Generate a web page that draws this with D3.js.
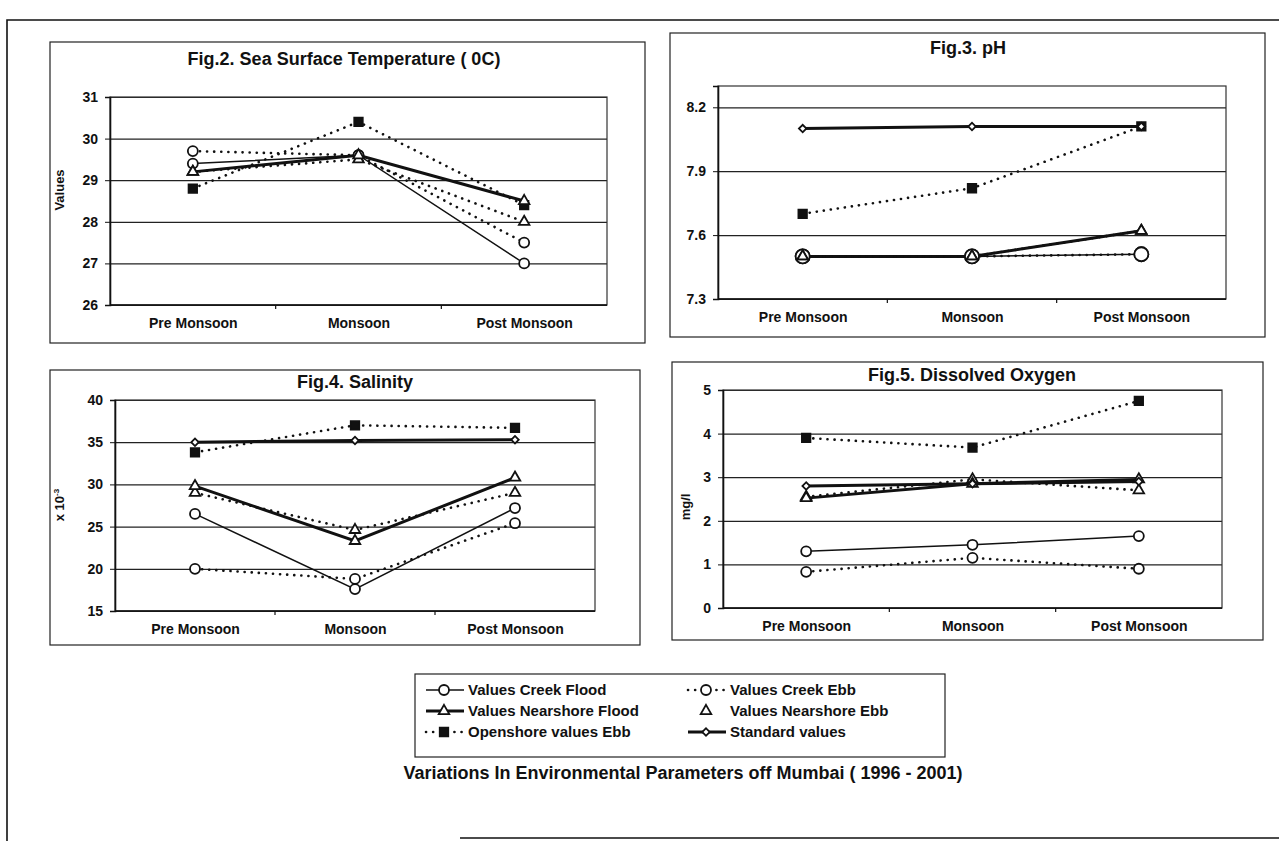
<!DOCTYPE html>
<html>
<head>
<meta charset="utf-8">
<script src="https://cdn.jsdelivr.net/npm/d3@7"></script>
<style>
  body { margin: 0; background: #fff; }
  text { font-family: "Liberation Sans", Arial, sans-serif; font-weight: bold; fill: #111; }
</style>
</head>
<body>
<svg id="chart" width="1279" height="841"></svg>
<script>
var seasons = ["Pre Monsoon", "Monsoon", "Post Monsoon"]

var CF = "Values Creek Flood", CE = "Values Creek Ebb",
    NF = "Values Nearshore Flood", NE = "Values Nearshore Ebb",
    OE = "Openshore values Ebb", SV = "Standard values"

// Fig.2 sea surface temperature (0C)
var sstCreekFlood = [29.4, 29.6, 27.0]
var sstCreekEbb = [29.7, 29.6, 27.5]
var sstNearFlood = [29.2, 29.6, 28.5]
var sstNearEbb = [29.2, 29.5, 28.0]
var sstOpenEbb = [28.8, 30.4, 28.4]
var sstTicks = [26, 27, 28, 29, 30, 31]

// Fig.3 pH
var phCreekFlood = [7.5, 7.5, 7.51]
var phCreekEbb = [7.5, 7.5, 7.51]
var phNearFlood = [7.5, 7.5, 7.62]
var phNearEbb = [7.5, 7.5, 7.62]
var phOpenEbb = [7.7, 7.82, 8.11]
var phStandard = [8.1, 8.11, 8.11]
var phTicks = [7.3, 7.6, 7.9, 8.2]

// Fig.4 salinity (x 10-3)
var salCreekFlood = [26.5, 17.6, 27.2]
var salCreekEbb = [20.0, 18.8, 25.4]
var salNearFlood = [29.8, 23.3, 30.8]
var salNearEbb = [29.0, 24.6, 29.0]
var salOpenEbb = [33.8, 37.0, 36.7]
var salStandard = [35.0, 35.2, 35.3]
var salTicks = [15, 20, 25, 30, 35, 40]

// Fig.5 dissolved oxygen (mg/l)
var doCreekFlood = [1.3, 1.45, 1.65]
var doCreekEbb = [0.83, 1.15, 0.9]
var doNearFlood = [2.52, 2.85, 2.95]
var doNearEbb = [2.55, 2.95, 2.7]
var doOpenEbb = [3.9, 3.68, 4.75]
var doStandard = [2.8, 2.85, 2.9]
var doTicks = [0, 1, 2, 3, 4, 5]

var styles = {}
styles[CF] = {width: 1.5, dash: null, symbol: "circle"}
styles[CE] = {width: 2.6, dash: "0.1,7", symbol: "circle"}
styles[NF] = {width: 3, dash: null, symbol: "triangle"}
styles[NE] = {width: 2.6, dash: "0.1,7", symbol: "triangle"}
styles[OE] = {width: 2.6, dash: "0.1,7", symbol: "square"}
styles[SV] = {width: 3, dash: null, symbol: "diamond"}

var figures = [
    {title: "Fig.2. Sea Surface Temperature ( 0C)", titleAt: [344, 65],
     box: [50, 42, 645, 343], plot: [110, 97, 607, 305],
     domain: [26, 31], ticks: sstTicks, fmt: d3.format("d"),
     ylabel: "Values", ylabelAt: [64, 190], r: 5,
     series: [[OE, sstOpenEbb], [CE, sstCreekEbb], [NE, sstNearEbb], [CF, sstCreekFlood], [NF, sstNearFlood]]},
    {title: "Fig.3. pH", titleAt: [968, 54],
     box: [670, 33, 1265, 337], plot: [718, 86, 1226, 299],
     domain: [7.3, 8.3], ticks: phTicks, fmt: d3.format(".1f"),
     ylabel: null, r: 7,
     series: [[OE, phOpenEbb], [CE, phCreekEbb], [NE, phNearEbb], [CF, phCreekFlood], [NF, phNearFlood], [SV, phStandard]]},
    {title: "Fig.4. Salinity", titleAt: [355, 388],
     box: [50, 370, 640, 645], plot: [115, 400, 595, 611],
     domain: [15, 40], ticks: salTicks, fmt: d3.format("d"),
     ylabel: "x 10", ylabelSup: "-3", ylabelAt: [64, 505], r: 5,
     series: [[OE, salOpenEbb], [CE, salCreekEbb], [NE, salNearEbb], [CF, salCreekFlood], [NF, salNearFlood], [SV, salStandard]]},
    {title: "Fig.5. Dissolved Oxygen", titleAt: [972, 381],
     box: [672, 362, 1263, 640], plot: [723, 390, 1222, 608],
     domain: [0, 5], ticks: doTicks, fmt: d3.format("d"),
     ylabel: "mg/l", ylabelAt: [690, 507], r: 5,
     series: [[OE, doOpenEbb], [CE, doCreekEbb], [NE, doNearEbb], [CF, doCreekFlood], [NF, doNearFlood], [SV, doStandard]]}
]

var svg = d3.select("#chart")

// page frame of the scanned sheet
svg.append("path")
    .attr("d", "M7,841V20H1279M460,838H1279")
    .attr("fill", "none").attr("stroke", "#111").attr("stroke-width", 1.6)

function markerPath(type, r) {
    if (type == "circle") return d3.symbol().type(d3.symbolCircle).size(Math.PI * r * r)()
    if (type == "triangle") return d3.symbol().type(d3.symbolTriangle).size(48)()
    if (type == "square") return d3.symbol().type(d3.symbolSquare).size(72)()
    return d3.symbol().type(d3.symbolSquare).size(28)()
}

function drawMarker(g, type, cx, cy, r) {
    var m = g.append("path")
        .attr("d", markerPath(type, r))
        .attr("stroke", "#111")
        .attr("stroke-width", 1.8)
        .attr("fill", type == "square" ? "#111" : "#fff")
    if (type == "diamond") m.attr("transform", "translate(" + cx + "," + cy + ") rotate(45)")
    else m.attr("transform", "translate(" + cx + "," + cy + ")")
    return m
}

function renderFigure(f) {
    var g = svg.append("g")
    var p = f.plot

    g.append("rect")
        .attr("x", f.box[0]).attr("y", f.box[1])
        .attr("width", f.box[2] - f.box[0]).attr("height", f.box[3] - f.box[1])
        .attr("fill", "none").attr("stroke", "#222").attr("stroke-width", 1.2)

    g.append("text")
        .attr("x", f.titleAt[0]).attr("y", f.titleAt[1])
        .attr("text-anchor", "middle")
        .style("font-size", "18px")
        .text(f.title)

    var x = d3.scalePoint().domain(seasons).range([p[0], p[2]]).padding(0.5)
    var y = d3.scaleLinear().domain(f.domain).range([p[3], p[1]])

    // grid lines
    g.append("g")
        .attr("transform", "translate(" + p[0] + ",0)")
        .call(d3.axisLeft(y).tickValues(f.ticks).tickSize(-(p[2] - p[0])).tickFormat(""))
        .call(s => s.select(".domain").remove())
        .selectAll("line").attr("stroke", "#222").attr("stroke-width", 1.2)

    // plot frame
    g.append("rect")
        .attr("x", p[0]).attr("y", p[1])
        .attr("width", p[2] - p[0]).attr("height", p[3] - p[1])
        .attr("fill", "none").attr("stroke", "#333").attr("stroke-width", 1.2)
    g.append("line")
        .attr("x1", p[0]).attr("x2", p[2]).attr("y1", p[3]).attr("y2", p[3])
        .attr("stroke", "#111").attr("stroke-width", 1.6)

    // y axis
    var ya = g.append("g")
        .attr("transform", "translate(" + p[0] + ",0)")
        .call(d3.axisLeft(y).tickValues(f.ticks).tickSize(5).tickPadding(7).tickFormat(f.fmt))
    ya.select(".domain").attr("stroke", "#111").attr("stroke-width", 1.6)
    ya.selectAll("line").attr("stroke", "#111")
    ya.selectAll("text").style("font-size", "14px").attr("fill", "#111")
        .attr("font-family", null)

    // x axis labels
    var xa = g.append("g")
        .attr("transform", "translate(0," + p[3] + ")")
        .call(d3.axisBottom(x).tickSize(0).tickPadding(13))
    xa.select(".domain").remove()
    xa.selectAll("text").style("font-size", "14px").attr("fill", "#111").attr("font-family", null)

    // small ticks between the seasons
    var step = x.step()
    g.selectAll(".sep")
        .data(seasons.slice(0, -1))
        .enter().append("line")
        .attr("x1", d => x(d) + step / 2).attr("x2", d => x(d) + step / 2)
        .attr("y1", p[3]).attr("y2", p[3] + 4)
        .attr("stroke", "#111").attr("stroke-width", 1.2)

    if (f.ylabel) {
        var yl = g.append("text")
            .attr("transform", "translate(" + f.ylabelAt[0] + "," + f.ylabelAt[1] + ") rotate(-90)")
            .attr("text-anchor", "middle")
            .style("font-size", "13px")
            .text(f.ylabel)
        if (f.ylabelSup) {
            yl.append("tspan").attr("dy", -5).style("font-size", "8px").text(f.ylabelSup)
        }
    }

    var line = d3.line()
        .defined(d => d != null)
        .x((d, i) => x(seasons[i]))
        .y(d => y(d))

    // solid lines first, dotted over them
    var ordered = f.series.slice().sort((a, b) => (styles[a[0]].dash ? 1 : 0) - (styles[b[0]].dash ? 1 : 0))
    g.selectAll(".series")
        .data(ordered)
        .enter().append("path")
        .attr("d", d => line(d[1]))
        .attr("fill", "none")
        .attr("stroke", "#111")
        .attr("stroke-width", d => styles[d[0]].width)
        .attr("stroke-dasharray", d => styles[d[0]].dash)
        .attr("stroke-linecap", d => styles[d[0]].dash ? "round" : "butt")

    // markers: squares, circles, triangles, then diamonds on top
    var rank = {square: 0, circle: 1, triangle: 2, diamond: 3}
    var markerSeries = f.series.slice().sort((a, b) => rank[styles[a[0]].symbol] - rank[styles[b[0]].symbol])
    markerSeries.forEach(function(s) {
        s[1].forEach(function(v, i) {
            if (v == null) return
            drawMarker(g, styles[s[0]].symbol, x(seasons[i]), y(v), f.r)
        })
    })
}

figures.forEach(renderFigure)

// legend
var legendItems = [
    {name: CF, col: 0, row: 0, line: true},
    {name: CE, col: 1, row: 0, line: true},
    {name: NF, col: 0, row: 1, line: true},
    {name: NE, col: 1, row: 1, line: false},
    {name: OE, col: 0, row: 2, line: true},
    {name: SV, col: 1, row: 2, line: true}
]
var lg = svg.append("g")
lg.append("rect")
    .attr("x", 415).attr("y", 674).attr("width", 530).attr("height", 83)
    .attr("fill", "none").attr("stroke", "#222").attr("stroke-width", 1.2)

var colX = [426, 688]
legendItems.forEach(function(it) {
    var x0 = colX[it.col], yy = 690 + it.row * 21
    var st = styles[it.name]
    if (it.line) {
        lg.append("line")
            .attr("x1", x0).attr("x2", x0 + 38).attr("y1", yy).attr("y2", yy)
            .attr("stroke", "#111")
            .attr("stroke-width", st.width)
            .attr("stroke-dasharray", st.dash)
            .attr("stroke-linecap", st.dash ? "round" : "butt")
    }
    drawMarker(lg, st.symbol, x0 + 18, yy, 5)
    lg.append("text")
        .attr("x", x0 + 42).attr("y", yy + 5)
        .style("font-size", "15px")
        .text(it.name)
})

svg.append("text")
    .attr("x", 683).attr("y", 779)
    .attr("text-anchor", "middle")
    .style("font-size", "18px")
    .text("Variations In Environmental Parameters off Mumbai ( 1996 - 2001)")
</script>
</body>
</html>
